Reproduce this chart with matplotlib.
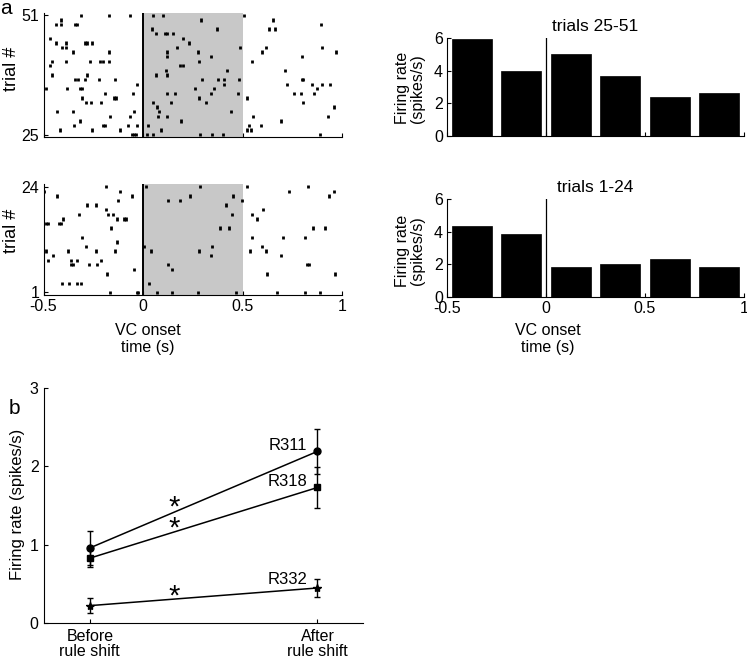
import matplotlib
matplotlib.use("Agg")
import matplotlib.pyplot as plt

plt.rcParams["font.family"] = ["Liberation Sans", "DejaVu Sans"]
plt.rcParams["font.size"] = 11
plt.rcParams["xtick.direction"] = "in"
plt.rcParams["ytick.direction"] = "in"
plt.rcParams["axes.linewidth"] = 0.8

# spike times (s) relative to VC onset, one list per trial
late_trials = list(range(25, 52))
late_spikes = [
    [-0.057, -0.047, -0.037, 0.020, 0.050, 0.284, 0.349, 0.401, 0.889],
    [-0.418, -0.258, -0.114, 0.092, 0.523, 0.544],
    [-0.349, -0.200, -0.191, -0.076, -0.030, 0.023, 0.535, 0.592],
    [-0.319, 0.193, 0.695],
    [-0.164, -0.065, 0.076, 0.122, 0.552, 0.931],
    [-0.430, -0.351, -0.047, 0.081, 0.441],
    [0.070, 0.959],
    [-0.287, -0.260, -0.213, 0.052, 0.143, 0.317, 0.803],
    [-0.305, -0.146, -0.136, 0.279, 0.523],
    [-0.190, -0.050, 0.121, 0.161, 0.341, 0.478, 0.761, 0.792, 0.859],
    [-0.487, -0.381, -0.315, -0.305, 0.262, 0.356, 0.874],
    [-0.030, 0.406, 0.723, 0.851, 0.897, 0.941],
    [-0.341, -0.326, -0.292, -0.221, -0.143, 0.295, 0.379, 0.408, 0.480, 0.797, 0.805],
    [-0.458, -0.280, 0.064, 0.121],
    [0.117, 0.424, 0.713],
    [-0.466, 0.186, 0.201],
    [-0.455, -0.389, -0.267, -0.215, -0.201, -0.171, 0.279, 0.549],
    [0.122, 0.344, 0.797],
    [-0.351, -0.169, 0.122, 0.275, 0.600, 0.971],
    [-0.409, -0.386, 0.171, 0.485, 0.617, 0.902],
    [-0.436, -0.389, -0.290, -0.279, -0.258, 0.233],
    [-0.466, 0.200],
    [0.065, 0.111, 0.121, 0.153],
    [0.045, 0.374, 0.632, 0.662],
    [-0.436, -0.411, -0.341, -0.331, 0.894],
    [-0.411, 0.290, 0.652],
    [-0.310, -0.173, -0.067, 0.050, 0.101, 0.510],
]

early_trials = list(range(1, 25))
early_spikes = [
    [-0.164, -0.032, -0.023, 0.072, 0.144, 0.277, 0.465, 0.672, 0.813, 0.891],
    [],
    [-0.408, -0.374, -0.334, -0.314, 0.029],
    [],
    [-0.181, 0.621, 0.964],
    [-0.047, 0.144],
    [-0.364, -0.351, -0.272, -0.232, 0.124, 0.822, 0.833],
    [-0.475, -0.362, -0.332, -0.213],
    [-0.451, 0.342, 0.693],
    [-0.488, -0.379, -0.237, -0.141, 0.039, 0.282, 0.538, 0.619],
    [-0.284, 0.007, 0.349, 0.597],
    [-0.133],
    [-0.309, 0.547, 0.705, 0.814],
    [],
    [-0.161, 0.389, 0.430, 0.854, 0.914],
    [-0.488, -0.477, -0.423, -0.411],
    [-0.401, -0.133, -0.094, -0.084, 0.575],
    [-0.324, -0.178, -0.153, 0.445, 0.549],
    [-0.188, 0.604],
    [-0.282, -0.238, 0.418],
    [-0.126, 0.124, 0.186, 0.497],
    [-0.430, -0.055, 0.235, 0.451, 0.933],
    [-0.495, -0.117, 0.733, 0.959],
    [-0.188, 0.013, 0.285, 0.521, 0.827],
]

# PSTH (spikes/s), 0.25 s bins
bin_centers = [-0.375, -0.125, 0.125, 0.375, 0.625, 0.875]
late_rate = [5.93, 4.0, 5.04, 3.7, 2.37, 2.65]
early_rate = [4.34, 3.84, 1.84, 1.99, 2.34, 1.84]

# panel b
conditions = ["Before\nrule shift", "After\nrule shift"]
r311_mean = [0.96, 2.19]
r311_err = [0.22, 0.29]
r318_mean = [0.83, 1.73]
r318_err = [0.11, 0.26]
r332_mean = [0.225, 0.45]
r332_err = [0.095, 0.12]

time_ticks = [-0.5, 0, 0.5, 1]
time_labels = ["-0.5", "0", "0.5", "1"]

W, H = 747, 659
fig = plt.figure(figsize=(W / 100, H / 100), dpi=100)


def box(left, top, right, bottom):
    return [left / W, 1 - bottom / H, (right - left) / W, (bottom - top) / H]


def raster(ax, trials, spikes, ylim, yticks, show_x):
    ax.axvspan(0, 0.5, color="#c8c8c8", lw=0, zorder=0)
    ax.eventplot(spikes, lineoffsets=trials, linelengths=0.72,
                 linewidths=2.0, colors="k", zorder=2)
    ax.axvline(0, color="k", lw=1.4, zorder=3)
    ax.set_xlim(-0.5, 1)
    ax.set_ylim(*ylim)
    ax.set_yticks(yticks)
    ax.set_xticks(time_ticks)
    ax.tick_params(length=3, width=0.8, labelsize=11.5, pad=3)
    if show_x:
        ax.set_xticklabels(time_labels)
        ax.set_xlabel("VC onset\ntime (s)", fontsize=11.5, va="top")
        ax.xaxis.set_label_coords(0.35, -0.25)
    else:
        ax.tick_params(labelbottom=False)
    ax.set_ylabel("trial #", fontsize=13)
    for s in ["top", "right"]:
        ax.spines[s].set_visible(False)


def psth(ax, rates, title, show_x, ylab_y):
    ax.bar(bin_centers, rates, width=0.2, color="k", edgecolor="k", lw=0.5)
    ax.axvline(0, color="k", lw=0.9)
    ax.set_xlim(-0.5, 1)
    ax.set_ylim(0, 6)
    ax.set_yticks([0, 2, 4, 6])
    ax.set_xticks(time_ticks)
    ax.tick_params(length=3, width=0.8, labelsize=11.5, pad=3)
    if show_x:
        ax.set_xticklabels(time_labels)
        ax.set_xlabel("VC onset\ntime (s)", fontsize=11.5, va="top")
        ax.xaxis.set_label_coords(0.34, -0.27)
    else:
        ax.tick_params(labelbottom=False)
    ax.set_title(title, fontsize=12.5, pad=5)
    ax.set_ylabel("Firing rate\n(spikes/s)", fontsize=11.5, linespacing=1.0)
    ax.yaxis.set_label_coords(-0.075, ylab_y)
    for s in ["top", "right"]:
        ax.spines[s].set_visible(False)


ax1 = fig.add_axes(box(43.5, 13.3, 342, 136.7))
raster(ax1, late_trials, late_spikes, (24.56, 51.44), [25, 51], False)
ax1.yaxis.set_label_coords(-0.08, 0.55)

ax2 = fig.add_axes(box(43.5, 184, 342, 295))
raster(ax2, early_trials, early_spikes, (0.43, 24.6), [1, 24], True)
ax2.yaxis.set_label_coords(-0.08, 0.58)

ax3 = fig.add_axes(box(447, 38.3, 744, 136))
psth(ax3, late_rate, "trials 25-51", False, 0.49)

ax4 = fig.add_axes(box(447, 199.3, 744, 296.7))
psth(ax4, early_rate, "trials 1-24", True, 0.47)

# panel b
axb = fig.add_axes(box(44.3, 387.8, 363, 623.3))
xpos = [1, 2]
axb.errorbar(xpos, r311_mean, yerr=r311_err, color="k", lw=1.1, marker="o",
             ms=5, capsize=2.5, elinewidth=1.0)
axb.errorbar(xpos, r318_mean, yerr=r318_err, color="k", lw=1.1, marker="s",
             ms=5, capsize=2.5, elinewidth=1.0)
axb.errorbar(xpos, r332_mean, yerr=r332_err, color="k", lw=1.1, marker="*",
             ms=6, capsize=2.5, elinewidth=1.0)
axb.text(1.955, 2.26, "R311", ha="right", va="center", fontsize=12)
axb.text(1.955, 1.80, "R318", ha="right", va="center", fontsize=12)
axb.text(1.955, 0.56, "R332", ha="right", va="center", fontsize=12)
for y in [1.47, 1.21, 0.34]:
    axb.text(1.372, y, "*", ha="center", va="center", fontsize=21)
axb.set_xlim(0.8, 2.2)
axb.set_ylim(0, 3)
axb.set_yticks([0, 1, 2, 3])
axb.set_xticks(xpos)
axb.set_xticklabels(conditions, linespacing=1.05)
axb.tick_params(length=3, width=0.8, labelsize=11.5, pad=4)
axb.set_ylabel("Firing rate (spikes/s)", fontsize=12)
axb.yaxis.set_label_coords(-0.06, 0.507)
for s in ["top", "right"]:
    axb.spines[s].set_visible(False)

fig.text(6 / W, 1 - 9 / H, "a", fontsize=15, ha="center", va="center")
fig.text(14 / W, 1 - 408 / H, "b", fontsize=15, ha="center", va="center")

fig.savefig("out.png", dpi=100)
